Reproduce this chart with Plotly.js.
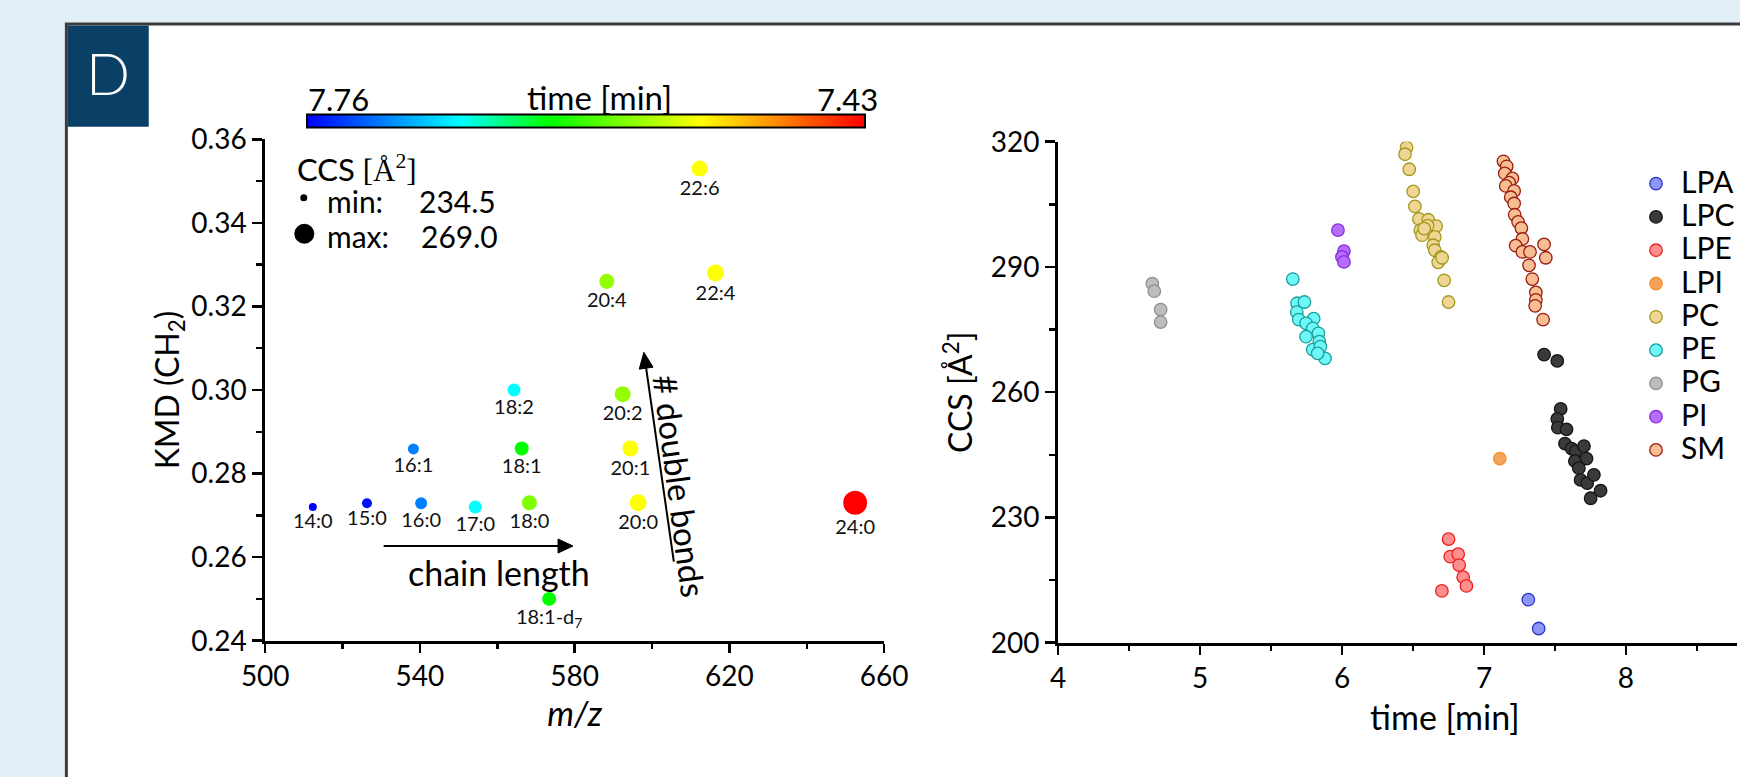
<!DOCTYPE html>
<html>
<head>
<meta charset="utf-8">
<script src="https://cdn.plot.ly/plotly-3.0.1.min.js"></script>
<style>html,body{margin:0;padding:0;background:#e3eff7;}#chart{width:1740px;height:777px;}</style>
</head>
<body>
<div id="chart"></div>
<script>
// ---------- Left panel: LPC species ----------
const lipidLabels = ['14:0','15:0','16:0','16:1','17:0','18:0','18:1','18:2','18:1-d<sub>7</sub>','20:0','20:1','20:2','20:4','22:4','22:6','24:0'];
const lipidMz     = [512.3, 526.3, 540.3, 538.3, 554.3, 568.3, 566.3, 564.3, 573.4, 596.4, 594.4, 592.4, 588.3, 616.4, 612.3, 652.5];
const lipidKmd    = [0.272, 0.2729, 0.2729, 0.2859, 0.272, 0.273, 0.286, 0.300, 0.250, 0.273, 0.286, 0.299, 0.326, 0.328, 0.353, 0.273];
const lipidTime   = [7.76, 7.755, 7.714, 7.714, 7.669, 7.572, 7.617, 7.669, 7.617, 7.527, 7.527, 7.565, 7.565, 7.527, 7.527, 7.43];
const lipidCcs    = [234.5, 238.8, 243.1, 241.0, 245.3, 249.6, 247.4, 245.3, 247.4, 253.9, 251.8, 251.8, 249.6, 253.9, 251.8, 269.0];
const mzTicks  = [500, 540, 580, 620, 660];
const kmdTicks = [0.24, 0.26, 0.28, 0.30, 0.32, 0.34, 0.36];

// ---------- Right panel: lipid classes ----------
const classNames = ['LPA','LPC','LPE','LPI','PC','PE','PG','PI','SM'];
const timeLPA = [7.312, 7.385];
const ccsLPA  = [210.3, 203.4];
const timeLPC = [7.423, 7.516, 7.540, 7.516, 7.520, 7.581, 7.570, 7.617, 7.645, 7.704, 7.722, 7.640, 7.668, 7.680, 7.727, 7.774, 7.751, 7.821];
const ccsLPC  = [269.0, 267.5, 256.0, 253.6, 251.5, 251.1, 247.7, 246.5, 245.9, 247.1, 244.1, 243.5, 241.8, 239.0, 238.2, 240.2, 234.6, 236.4];
const timeLPE = [6.750, 6.762, 6.818, 6.825, 6.853, 6.876, 6.703];
const ccsLPE  = [224.8, 220.6, 221.2, 218.6, 215.7, 213.6, 212.4];
const timeLPI = [7.111];
const ccsLPI  = [244.1];
const timePC  = [6.454, 6.443, 6.473, 6.501, 6.513, 6.541, 6.607, 6.663, 6.602, 6.551, 6.563, 6.653, 6.642, 6.653, 6.696, 6.677, 6.705, 6.719, 6.750, 6.579];
const ccsPC   = [318.6, 317.0, 313.4, 308.1, 304.5, 301.5, 301.3, 299.8, 299.9, 298.8, 297.6, 297.2, 295.2, 294.0, 292.4, 291.1, 292.2, 286.8, 281.6, 299.2];
const timePE  = [5.653, 5.683, 5.735, 5.681, 5.695, 5.800, 5.746, 5.793, 5.833, 5.746, 5.840, 5.793, 5.847, 5.880, 5.828];
const ccsPE   = [287.1, 281.3, 281.6, 279.2, 277.4, 277.6, 276.5, 275.3, 274.1, 273.3, 272.1, 270.2, 270.9, 268.1, 269.3];
const timePG  = [4.663, 4.677, 4.722, 4.722];
const ccsPG   = [286.0, 284.2, 279.8, 276.8];
const timePI  = [5.971, 6.013, 5.999, 6.013];
const ccsPI   = [298.8, 293.8, 292.4, 291.2];
const timeSM  = [7.137, 7.160, 7.146, 7.200, 7.177, 7.153, 7.212, 7.188, 7.212, 7.216, 7.240, 7.263, 7.270, 7.223, 7.270, 7.324, 7.317, 7.340, 7.365, 7.365, 7.360, 7.416, 7.423, 7.435];
const ccsSM   = [315.3, 314.1, 312.4, 311.2, 310.2, 309.4, 308.2, 306.7, 305.2, 302.5, 300.8, 299.3, 296.7, 295.1, 293.6, 293.6, 290.4, 287.1, 283.9, 282.1, 280.7, 277.4, 295.4, 292.2];
const timeTicks = [4, 5, 6, 7, 8];
const ccsTicks  = [200, 230, 260, 290, 320];

const classTime = [timeLPA, timeLPC, timeLPE, timeLPI, timePC, timePE, timePG, timePI, timeSM];
const classCcs  = [ccsLPA, ccsLPC, ccsLPE, ccsLPI, ccsPC, ccsPE, ccsPG, ccsPI, ccsSM];
const classFill = ['#8c96f7','#3a3a3a','#ff8f8f','#f5a25a','#f0d595','#6ff8f8','#bdbdbd','#b46ef9','#f7be93'];
const classLine = ['#2b35c8','#151515','#f01e1e','#f5912f','#a09a1e','#1a9f9f','#8f8f8f','#8a2be2','#9b1c10'];

// ---------- geometry helpers (pixel -> paper) ----------
const W = 1740, H = 777;
const px = v => v / W;
const py = v => 1 - v / H;
const FONT = 'Lato, "Open Sans", sans-serif';

const ccsMin = Math.min(...lipidCcs), ccsMax = Math.max(...lipidCcs);
const sizeOf = c => 8 + (c - ccsMin) / (ccsMax - ccsMin) * 16;
const tMax = Math.max(...lipidTime), tMin = Math.min(...lipidTime);

// arrow drawn as shapes (line + filled head), endpoints in page pixels
function arrowShapes(x0, y0, x1, y1, headLen, halfW) {
  const dx = x1 - x0, dy = y1 - y0, L = Math.hypot(dx, dy);
  const ux = dx / L, uy = dy / L, nx = -uy, ny = ux;
  const bx = x1 - ux * headLen, by = y1 - uy * headLen;
  const P = (x, y) => px(x) + ',' + py(y);
  return [
    {type: 'line', xref: 'paper', yref: 'paper', x0: px(x0), y0: py(y0), x1: px(bx), y1: py(by),
     line: {color: '#000', width: 2}},
    {type: 'path', xref: 'paper', yref: 'paper',
     path: 'M' + P(x1, y1) + ' L' + P(bx + nx * halfW, by + ny * halfW) + ' L' + P(bx - nx * halfW, by - ny * halfW) + ' Z',
     fillcolor: '#000', line: {color: '#000', width: 1}}
  ];
}

const traces = [];
traces.push({
  type: 'scatter', mode: 'markers+text', xaxis: 'x', yaxis: 'y',
  x: lipidMz, y: lipidKmd, text: lipidLabels,
  textposition: 'bottom center', textfont: {size: 20, family: FONT, color: '#111'},
  showlegend: false, hoverinfo: 'x+y+text',
  marker: {
    size: lipidCcs.map(sizeOf), opacity: 1,
    color: lipidTime.map(t => -t),
    cmin: -tMax, cmax: -tMin,
    colorscale: [[0,'rgb(0,0,255)'],[0.277,'rgb(0,255,255)'],[0.433,'rgb(0,255,0)'],[0.707,'rgb(255,255,0)'],[1,'rgb(255,0,0)']],
    line: {width: 0},
    showscale: true,
    colorbar: {
      orientation: 'h', x: px(587.5), xanchor: 'center', y: py(122.4), yanchor: 'middle',
      len: 558, lenmode: 'pixels', thickness: 13, thicknessmode: 'pixels',
      xpad: 0, ypad: 0, outlinewidth: 2, outlinecolor: '#000', borderwidth: 0,
      showticklabels: false, ticks: ''
    }
  }
});
for (let i = 0; i < classNames.length; i++) {
  traces.push({
    type: 'scatter', mode: 'markers', xaxis: 'x2', yaxis: 'y2',
    x: classTime[i], y: classCcs[i],
    name: '<span style="font-size:30px">' + classNames[i] + '</span>',
    marker: {size: 12.5, opacity: 1, color: classFill[i], line: {color: classLine[i], width: 1.3}}
  });
}

const axisCommon = {
  showline: true, linecolor: '#000', linewidth: 3, mirror: false,
  showgrid: false, zeroline: false, ticks: 'outside', ticklen: 9, tickwidth: 2.5, tickcolor: '#000',
  tickfont: {size: 28, family: FONT, color: '#000'}, automargin: false, fixedrange: true
};

const layout = {
  width: W, height: H,
  margin: {l: 0, r: 0, t: 0, b: 0, pad: 0},
  paper_bgcolor: '#e3eff7', plot_bgcolor: 'rgba(0,0,0,0)',
  font: {family: FONT, color: '#000'},
  showlegend: true,
  legend: {x: px(1634), xanchor: 'left', y: py(162), yanchor: 'top', itemwidth: 40,
           font: {size: 23.3, family: FONT, color: '#000'}, bgcolor: 'rgba(0,0,0,0)', borderwidth: 0, tracegroupgap: 0},
  xaxis: Object.assign({}, axisCommon, {
    domain: [px(265.7), px(885.7)], anchor: 'y', range: [500, 660],
    tickmode: 'array', tickvals: mzTicks,
    minor: {dtick: 20, tick0: 500, ticks: 'outside', ticklen: 5, tickwidth: 2.5, tickcolor: '#000', showgrid: false},
    title: {text: '<i>m/z</i>', font: {size: 34, family: FONT}, standoff: 10}
  }),
  yaxis: Object.assign({}, axisCommon, {
    domain: [py(640.7), py(139.3)], anchor: 'x', range: [0.24, 0.36],
    tickmode: 'array', tickvals: kmdTicks, tickformat: '.2f', ticklen: 10,
    minor: {dtick: 0.01, tick0: 0.24, ticks: 'outside', ticklen: 6, tickwidth: 2.5, tickcolor: '#000', showgrid: false},
    title: {text: 'KMD (CH<sub>2</sub>)', font: {size: 32, family: FONT}, standoff: 3}
  }),
  xaxis2: Object.assign({}, axisCommon, {
    domain: [px(1060), 1], anchor: 'y2', range: [4, 4 + (W - 1060) / 142.2],
    tickmode: 'array', tickvals: timeTicks,
    minor: {dtick: 0.5, tick0: 4, ticks: 'outside', ticklen: 5, tickwidth: 2.5, tickcolor: '#000', showgrid: false}
  }),
  yaxis2: Object.assign({}, axisCommon, {
    domain: [py(642.7), py(141.7)], anchor: 'x2', range: [200, 320],
    tickmode: 'array', tickvals: ccsTicks, ticklen: 10,
    minor: {dtick: 15, tick0: 200, ticks: 'outside', ticklen: 6, tickwidth: 2.5, tickcolor: '#000', showgrid: false},
    title: {text: 'CCS [Å<sup>2</sup>]', font: {size: 32, family: FONT}, standoff: 9}
  }),
  shapes: [
    {type: 'rect', xref: 'paper', yref: 'paper', layer: 'below',
     x0: px(66.5), x1: px(1760), y0: py(24), y1: py(800),
     fillcolor: '#ffffff', line: {color: '#3c3c3c', width: 3}},
    {type: 'rect', xref: 'paper', yref: 'paper', layer: 'below',
     x0: px(68), x1: px(149), y0: py(25.5), y1: py(126.7),
     fillcolor: '#0a4066', line: {width: 0}},
    {type: 'circle', xref: 'x', yref: 'y', xsizemode: 'pixel', ysizemode: 'pixel',
     xanchor: 509.96, yanchor: 0.346, x0: -3.5, x1: 3.5, y0: -3.5, y1: 3.5,
     fillcolor: '#000', line: {width: 0}},
    {type: 'circle', xref: 'x', yref: 'y', xsizemode: 'pixel', ysizemode: 'pixel',
     xanchor: 510.1, yanchor: 0.3374, x0: -10, x1: 10, y0: -10, y1: 10,
     fillcolor: '#000', line: {width: 0}}
  ].concat(arrowShapes(384.3, 546, 574, 546, 15, 7))
   .concat(arrowShapes(675, 561.7, 645, 352.3, 16, 7)),
  annotations: [
    {text: 'D', xref: 'paper', yref: 'paper', x: px(108), y: py(72), xanchor: 'center', yanchor: 'middle',
     showarrow: false, font: {size: 58, color: '#ffffff', family: FONT, weight: 300}},
    {text: tMax.toFixed(2), xref: 'paper', yref: 'paper', x: px(339), y: py(99), xanchor: 'center', yanchor: 'middle',
     showarrow: false, font: {size: 31}},
    {text: 'time [min]', xref: 'paper', yref: 'paper', x: px(601), y: py(97), xanchor: 'center', yanchor: 'middle',
     showarrow: false, font: {size: 33}},
    {text: tMin.toFixed(2), xref: 'paper', yref: 'paper', x: px(849), y: py(99), xanchor: 'center', yanchor: 'middle',
     showarrow: false, font: {size: 31}},
    {text: 'CCS <span style="font-family:\'Liberation Serif\',serif">[Å<sup>2</sup>]</span>', xref: 'paper', yref: 'paper',
     x: px(296), y: py(168), xanchor: 'left', yanchor: 'middle', showarrow: false, font: {size: 31}},
    {text: 'min:', xref: 'paper', yref: 'paper', x: px(326), y: py(201), xanchor: 'left', yanchor: 'middle', showarrow: false, font: {size: 30}},
    {text: ccsMin.toFixed(1), xref: 'paper', yref: 'paper', x: px(418), y: py(201), xanchor: 'left', yanchor: 'middle', showarrow: false, font: {size: 30}},
    {text: 'max:', xref: 'paper', yref: 'paper', x: px(326), y: py(236), xanchor: 'left', yanchor: 'middle', showarrow: false, font: {size: 30}},
    {text: ccsMax.toFixed(1), xref: 'paper', yref: 'paper', x: px(420), y: py(236), xanchor: 'left', yanchor: 'middle', showarrow: false, font: {size: 30}},
    {text: 'chain length', xref: 'paper', yref: 'paper', x: px(500), y: py(572), xanchor: 'center', yanchor: 'middle',
     showarrow: false, font: {size: 34}},
    {text: '# double bonds', xref: 'paper', yref: 'paper', x: px(681), y: py(486), xanchor: 'center', yanchor: 'middle',
     textangle: 82.5, showarrow: false, font: {size: 33}},
    {text: 'time [min]', xref: 'paper', yref: 'paper', x: px(1447), y: py(716), xanchor: 'center', yanchor: 'middle',
     showarrow: false, font: {size: 34}}
  ]
};

Plotly.newPlot('chart', traces, layout, {displayModeBar: false, staticPlot: true});
</script>
</body>
</html>
